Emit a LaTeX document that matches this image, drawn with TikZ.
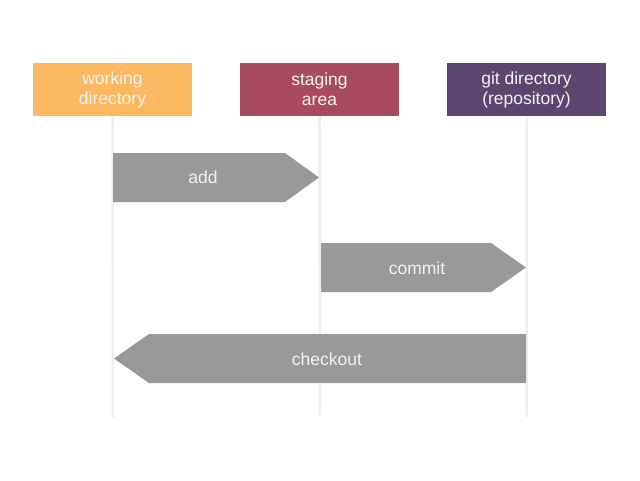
\documentclass[tikz,border=0pt]{standalone}
\usepackage{fontspec}
\setmainfont{Liberation Sans}
\definecolor{wdcol}{HTML}{FDB962}
\definecolor{sacol}{HTML}{A84B5E}
\definecolor{gdcol}{HTML}{5C4670}
\definecolor{arrcol}{HTML}{999999}
\definecolor{lifecol}{HTML}{EEEEEE}
\definecolor{txtcol}{HTML}{F2F2F2}
\tikzset{
	area/.style={minimum width=159, minimum height=53, inner sep=0, align=center,
		text=txtcol, font=\fontsize{17.5}{20}\selectfont},
	lifeline/.style={draw=lifecol, line width=2.5},
	blockarrow/.style={fill=arrcol},
	label/.style={text=txtcol, font=\fontsize{17.5}{20}\selectfont}
}
\begin{document}
\begin{tikzpicture}[x=1pt,y=-1pt]
	\useasboundingbox (0,0) rectangle (640,480);
	
	\node[area, fill=wdcol] (wd) at (112.5,89.5) {working\\directory};
	\node[area, fill=sacol] (sa) at (319.5,89.5) {staging\\area};
	\node[area, fill=gdcol] (gd) at (526.5,89.5) {git directory\\(repository)};
	
	\foreach \n/\x in {wd/113,sa/320,gd/527}
		\coordinate (\n end) at (\x,417);
	\foreach \n in {wd,sa,gd}
		\draw[lifeline] (\n.south) -- (\n end);
	
	% add
	\fill[blockarrow] (113,153) -- (285,153) -- (319,177.5) -- (285,202) -- (113,202) -- cycle;
	\node[label] (add) at (203,177) {add};
	% commit
	\fill[blockarrow] (321,243) -- (491,243) -- (526,267.5) -- (491,292) -- (321,292) -- cycle;
	\node[label] (commit) at (417,268) {commit};
	% checkout
	\fill[blockarrow] (526,334) -- (149,334) -- (114,358.5) -- (149,383) -- (526,383) -- cycle;
	\node[label] (checkout) at (327,359) {checkout};
\end{tikzpicture}
\end{document}
